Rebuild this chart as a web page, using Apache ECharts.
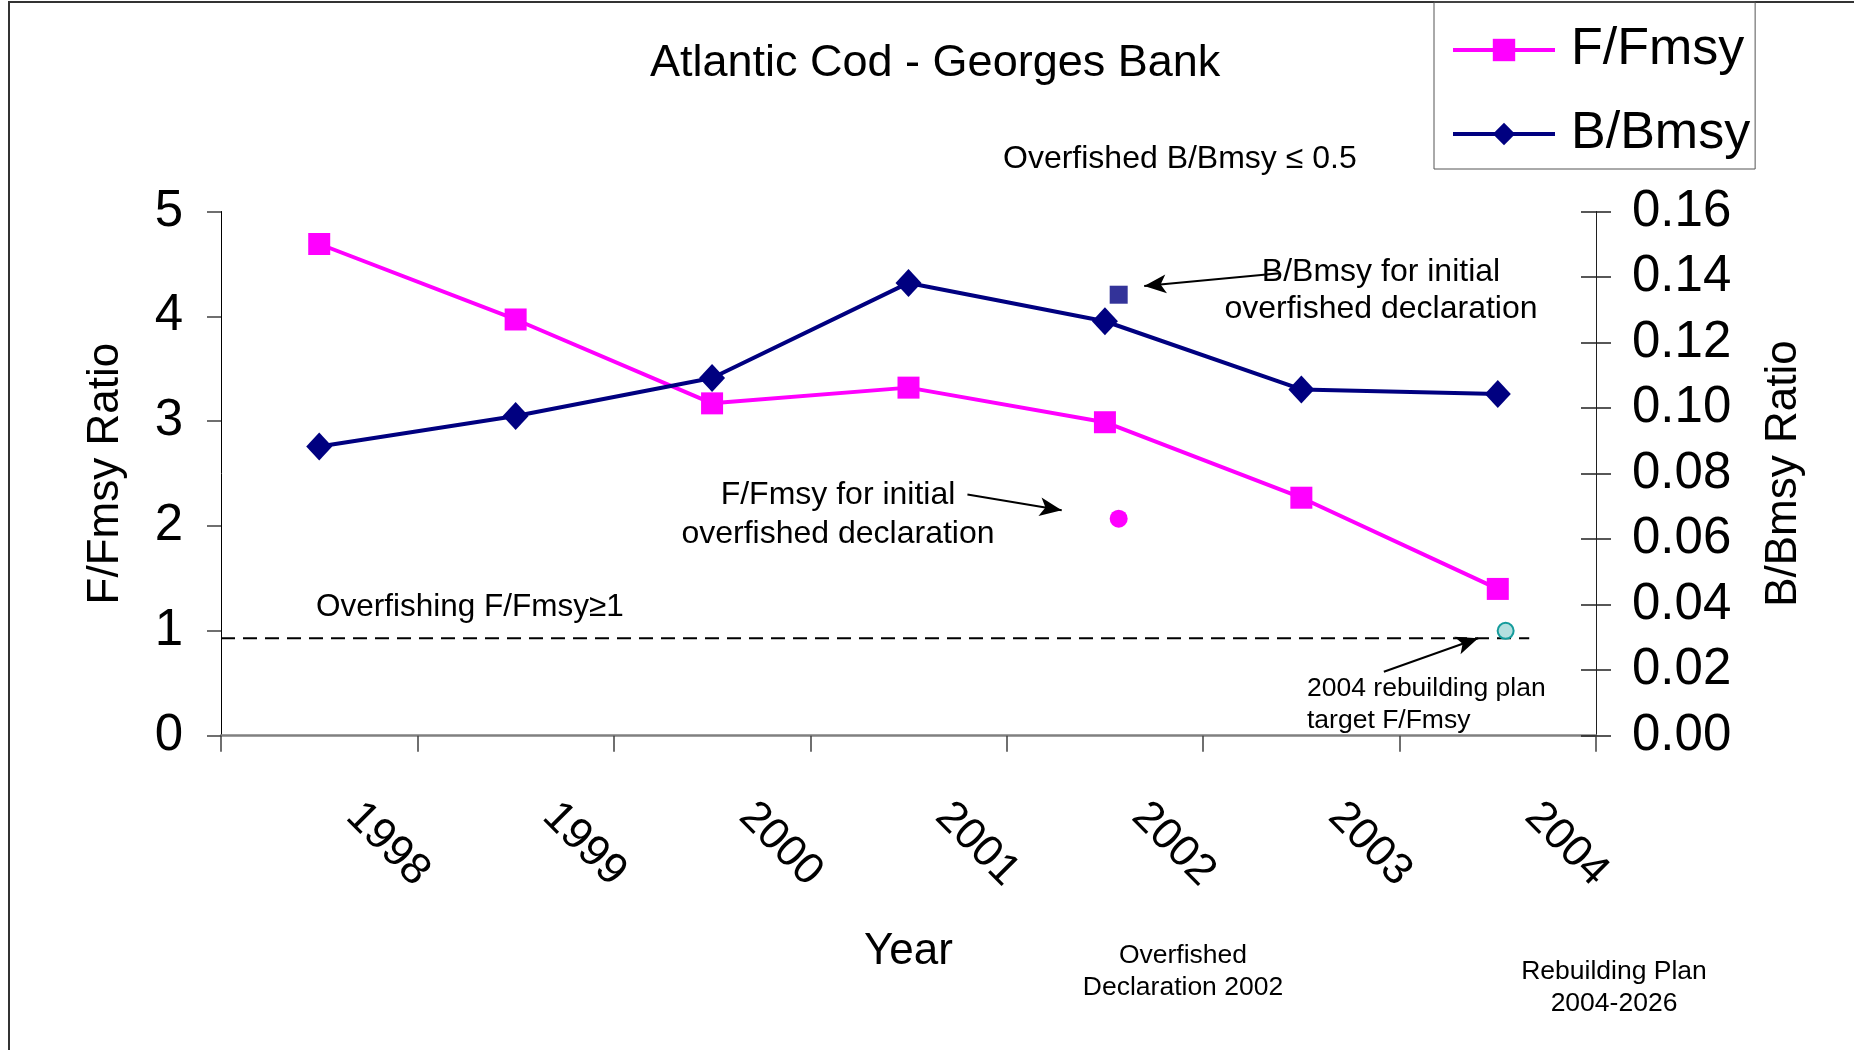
<!DOCTYPE html>
<html>
<head>
<meta charset="utf-8">
<script src="https://cdn.jsdelivr.net/npm/echarts@6/dist/echarts.min.js"></script>
<style>
  html, body { margin: 0; padding: 0; background: #ffffff; }
  #chart { width: 1854px; height: 1050px; }
</style>
</head>
<body>
<div id="chart"></div>
<script>
// Years on the category axis
const years = ['1998', '1999', '2000', '2001', '2002', '2003', '2004'];

// Fishing mortality relative to Fmsy (left axis)
const fRatio = [4.69, 3.97, 3.17, 3.32, 2.99, 2.27, 1.40];

// Biomass relative to Bmsy (right axis)
const bRatio = [0.0883, 0.0976, 0.1092, 0.1382, 0.1265, 0.1057, 0.1043];

// Axis ranges
const leftAxisRange = { min: 0, max: 5, interval: 1 };
const rightAxisRange = { min: 0, max: 0.16, interval: 0.02 };

// Reference points; x is measured in year slots (0 = left edge of 1998, 7 = right edge of 2004)
const initialDeclarationF = [[4.57, 2.07]];
const initialDeclarationB = [[4.57, 0.1346]];
const rebuildingTargetF = [[6.54, 1.0]];

// Overfishing threshold line (left axis units)
const overfishingLine = [[0, 0.93], [6.66, 0.93]];

// Callout arrows: [from, to] in year slots / left axis units
const calloutArrows = [
  [[3.80, 2.30], [4.28, 2.15]],
  [[5.39, 4.41], [4.70, 4.29]],
  [[5.92, 0.61], [6.40, 0.93]]
];

const FONT = "'Liberation Sans', Arial, Helvetica, sans-serif";
const MAGENTA = '#ff00ff';
const NAVY = '#000080';

const chart = echarts.init(document.getElementById('chart'), null, { renderer: 'canvas' });

function note(text, x, y, size, align, lineHeight) {
  return {
    type: 'text',
    x: x,
    y: y,
    silent: true,
    style: {
      text: text,
      fontFamily: FONT,
      fontSize: size,
      lineHeight: lineHeight || Math.round(size * 1.2),
      fill: '#000000',
      textAlign: align || 'left',
      textVerticalAlign: 'middle'
    }
  };
}

const option = {
  backgroundColor: '#ffffff',
  animation: false,
  textStyle: { fontFamily: FONT },
  title: {
    text: 'Atlantic Cod - Georges Bank',
    left: 650,
    top: 41.5,
    padding: 0,
    textStyle: { fontFamily: FONT, fontSize: 45, fontWeight: 'normal', color: '#000000' }
  },
  legend: {
    data: ['F/Fmsy', 'B/Bmsy'],
    orient: 'vertical',
    left: 1434,
    top: 2,
    padding: [20, 5, 7, 17],
    itemWidth: 102,
    itemHeight: 28,
    itemGap: 28,
    borderColor: '#555555',
    borderWidth: 1,
    borderRadius: 0,
    lineStyle: { width: 4 },
    textStyle: { fontFamily: FONT, fontSize: 52, lineHeight: 56, color: '#000000', padding: [0, 0, 0, 11] }
  },
  grid: {
    left: 221,
    right: 258,
    top: 211.5,
    bottom: 314.3,
    containLabel: false
  },
  xAxis: [
    {
      type: 'category',
      data: years,
      boundaryGap: true,
      position: 'bottom',
      name: 'Year',
      nameLocation: 'middle',
      nameGap: 194,
      nameTextStyle: { fontFamily: FONT, fontSize: 44, color: '#000000' },
      axisLine: { lineStyle: { color: '#808080', width: 2.5 } },
      axisTick: { show: true, length: 16, lineStyle: { color: '#404040', width: 1.5 } },
      axisLabel: {
        rotate: -45,
        margin: 40,
        padding: [0, 0, 0, 48],
        fontFamily: FONT,
        fontSize: 44,
        color: '#000000'
      },
      splitLine: { show: false }
    },
    {
      type: 'value',
      min: 0,
      max: 7,
      position: 'top',
      show: false
    }
  ],
  yAxis: [
    {
      type: 'value',
      position: 'left',
      min: leftAxisRange.min,
      max: leftAxisRange.max,
      interval: leftAxisRange.interval,
      name: 'F/Fmsy Ratio',
      nameLocation: 'middle',
      nameGap: 93,
      nameTextStyle: { fontFamily: FONT, fontSize: 44, color: '#000000' },
      axisLine: { show: true, lineStyle: { color: '#000000', width: 1 } },
      axisTick: { show: true, length: 14, lineStyle: { color: '#404040', width: 1.5 } },
      axisLabel: { margin: 38, padding: [6, 0, 0, 0], fontFamily: FONT, fontSize: 51, color: '#000000' },
      splitLine: { show: false }
    },
    {
      type: 'value',
      position: 'right',
      min: rightAxisRange.min,
      max: rightAxisRange.max,
      interval: rightAxisRange.interval,
      name: 'B/Bmsy Ratio',
      nameLocation: 'middle',
      nameGap: 166,
      nameTextStyle: { fontFamily: FONT, fontSize: 44, color: '#000000' },
      axisLine: { show: true, lineStyle: { color: '#202020', width: 1 } },
      axisTick: { show: true, length: 15, lineStyle: { color: '#202020', width: 1.5 } },
      axisLabel: {
        margin: 36,
        padding: [7, 0, 0, 0],
        fontFamily: FONT,
        fontSize: 51,
        color: '#000000',
        formatter: function (v) { return v.toFixed(2); }
      },
      splitLine: { show: false }
    },
    {
      // inner half of the crossing ticks on the right axis
      type: 'value',
      position: 'right',
      min: rightAxisRange.min,
      max: rightAxisRange.max,
      interval: rightAxisRange.interval,
      axisLine: { show: false },
      axisTick: { show: true, inside: true, length: 15, lineStyle: { color: '#202020', width: 1.5 } },
      axisLabel: { show: false },
      splitLine: { show: false }
    }
  ],
  series: [
    {
      name: 'overfishing-threshold',
      type: 'line',
      xAxisIndex: 1,
      yAxisIndex: 0,
      data: overfishingLine,
      symbol: 'none',
      silent: true,
      lineStyle: { color: '#000000', width: 2, type: [14, 8] },
      markLine: {
        silent: true,
        symbol: ['none', 'arrow'],
        symbolSize: [14, 22],
        label: { show: false },
        lineStyle: { color: '#000000', width: 2, type: 'solid' },
        data: calloutArrows.map(function (a) {
          return [{ coord: a[0] }, { coord: a[1] }];
        })
      },
      z: 1
    },
    {
      name: 'F/Fmsy',
      type: 'line',
      xAxisIndex: 0,
      yAxisIndex: 0,
      data: fRatio,
      symbol: 'rect',
      symbolSize: 22,
      itemStyle: { color: MAGENTA },
      lineStyle: { color: MAGENTA, width: 4 },
      z: 3
    },
    {
      name: 'B/Bmsy',
      type: 'line',
      xAxisIndex: 0,
      yAxisIndex: 1,
      data: bRatio,
      symbol: 'diamond',
      symbolSize: [26, 28],
      itemStyle: { color: NAVY },
      lineStyle: { color: NAVY, width: 4 },
      z: 3
    },
    {
      name: 'initial-F',
      type: 'scatter',
      xAxisIndex: 1,
      yAxisIndex: 0,
      data: initialDeclarationF,
      symbol: 'circle',
      symbolSize: 18,
      itemStyle: { color: MAGENTA, opacity: 1 },
      z: 2
    },
    {
      name: 'initial-B',
      type: 'scatter',
      xAxisIndex: 1,
      yAxisIndex: 1,
      data: initialDeclarationB,
      symbol: 'rect',
      symbolSize: 18,
      itemStyle: { color: '#333399', opacity: 1 },
      z: 2
    },
    {
      name: 'target-F',
      type: 'scatter',
      xAxisIndex: 1,
      yAxisIndex: 0,
      data: rebuildingTargetF,
      symbol: 'circle',
      symbolSize: 16,
      itemStyle: { color: '#b4dfdf', borderColor: '#159c9c', borderWidth: 2, opacity: 1 },
      z: 2
    }
  ],
  graphic: [
    {
      type: 'rect',
      silent: true,
      shape: { x: 9, y: 2, width: 1900, height: 1100 },
      style: { fill: 'none', stroke: '#333333', lineWidth: 2 }
    },
    note('Overfished B/Bmsy \u2264 0.5', 1003, 159.5, 32),
    note('Overfishing F/Fmsy\u22651', 316, 607.5, 31.5),
    note('F/Fmsy for initial\noverfished declaration', 838, 515, 32, 'center', 39),
    note('B/Bmsy for initial\noverfished declaration', 1381, 290.5, 32, 'center', 37.5),
    note('2004 rebuilding plan\ntarget F/Fmsy', 1307, 705, 26.5, 'left', 32),
    note('Overfished\nDeclaration 2002', 1183, 971.5, 26.5, 'center', 32),
    note('Rebuilding Plan\n2004-2026', 1614, 988, 26.5, 'center', 32)
  ]
};

chart.setOption(option);
</script>
</body>
</html>
